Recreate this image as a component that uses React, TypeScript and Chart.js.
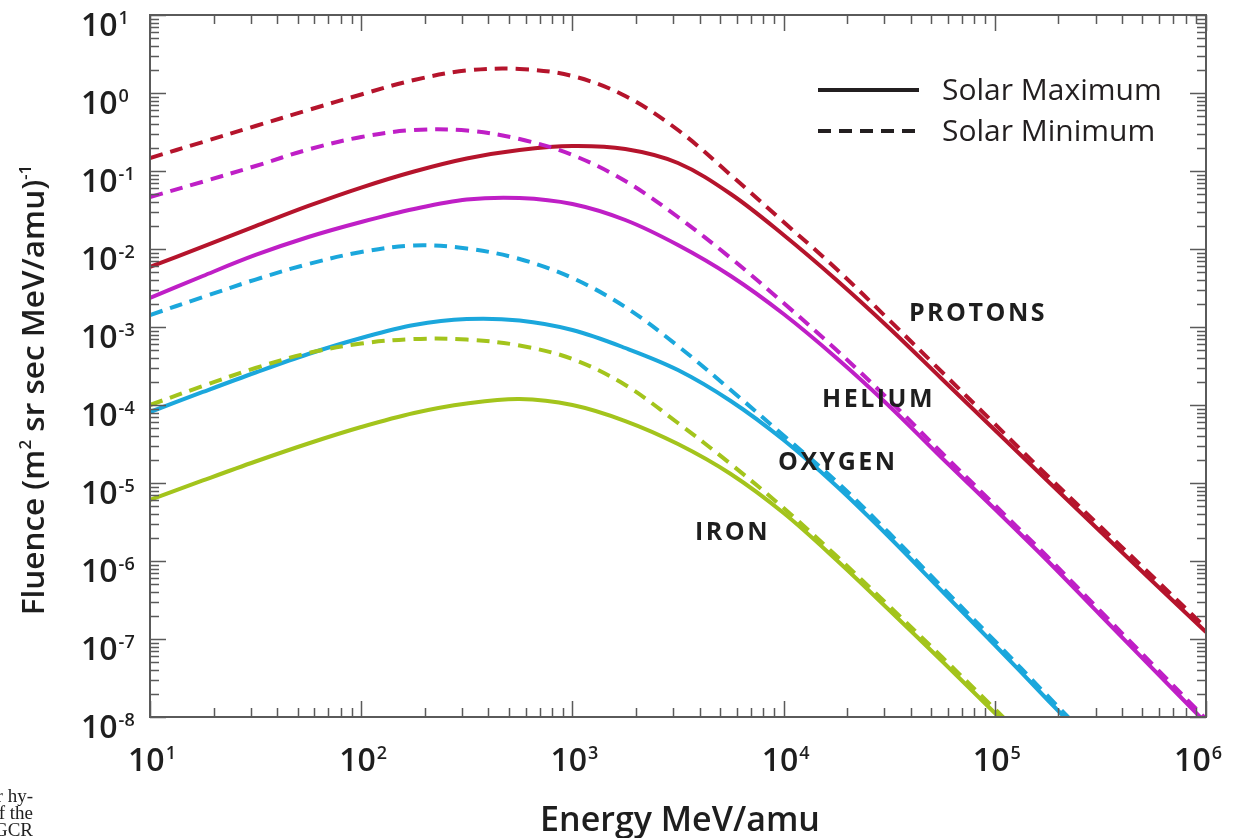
import React, { useEffect, useRef } from "react";
import { Chart, registerables } from "chart.js";

Chart.register(...registerables);

const FONT = "'Open Sans', 'Noto Sans', 'DejaVu Sans', sans-serif";

// Energy grid (MeV/amu)
const energies = [10, 17.8, 31.6, 56.2, 100, 178, 316, 562, 1000, 1780, 3160, 5620, 10000, 17800, 31600, 56200, 100000, 178000, 316000, 562000, 1000000];

// Fluence (m^2 sr sec MeV/amu)^-1
const protonsMax = [5.88e-3, 1.073e-2, 1.96e-2, 3.56e-2, 6.13e-2, 9.85e-2, 0.1446, 0.1858, 0.2092, 0.1914, 0.1266, 5.07e-2, 1.512e-2, 4.005e-3, 9.71e-4, 2.154e-4, 4.78e-5, 1.061e-5, 2.389e-6, 5.38e-7, 1.23e-7];
const protonsMin = [0.1468, 0.2354, 0.3775, 0.6054, 0.9567, 1.468, 1.943, 2.031, 1.652, 0.915, 0.3354, 8.88e-2, 2.22e-2, 5.54e-3, 1.23e-3, 2.65e-4, 5.71e-5, 1.23e-5, 2.77e-6, 6.23e-7, 1.384e-7];
const heliumMax = [2.354e-3, 4.51e-3, 8.38e-3, 1.425e-2, 2.22e-2, 3.26e-2, 4.31e-2, 4.51e-2, 3.775e-2, 2.354e-2, 1.125e-2, 4.51e-3, 1.468e-3, 4.005e-4, 9.71e-5, 2.09e-5, 4.64e-6, 1.0e-6, 2.03e-7, 4.12e-8, 8.38e-9];
const heliumMin = [4.64e-2, 7.29e-2, 0.1159, 0.1887, 0.2729, 0.3354, 0.3305, 0.2572, 0.1604, 7.44e-2, 2.572e-2, 7.66e-3, 2.03e-3, 5.07e-4, 1.159e-4, 2.424e-5, 5.22e-6, 1.125e-6, 2.286e-7, 4.64e-8, 9.43e-9];
const oxygenMax = [8.13e-5, 1.468e-4, 2.61e-4, 4.51e-4, 7.23e-4, 1.061e-3, 1.267e-3, 1.212e-3, 9.15e-4, 5.38e-4, 2.81e-4, 1.125e-4, 3.56e-5, 9.15e-6, 2.03e-6, 4.12e-7, 8.38e-8, 1.652e-8, 3.35e-9, 6.81e-10, 1.384e-10];
const oxygenMin = [1.425e-3, 2.42e-3, 4.06e-3, 6.42e-3, 9.15e-3, 1.109e-2, 1.015e-2, 7.44e-3, 4.25e-3, 1.805e-3, 5.71e-4, 1.557e-4, 4.06e-5, 1.045e-5, 2.286e-6, 4.64e-7, 9.43e-8, 1.858e-8, 3.775e-9, 7.66e-10, 1.557e-10];
const ironMax = [6.06e-6, 1.077e-5, 1.886e-5, 3.21e-5, 5.22e-5, 7.9e-5, 1.045e-4, 1.194e-4, 1.0e-4, 6.23e-5, 3.16e-5, 1.304e-5, 4.12e-6, 1.03e-6, 2.354e-7, 5.22e-8, 1.125e-8, 2.424e-9, 5.22e-10, 1.125e-10, 2.4e-11];
const ironMin = [1.0e-4, 1.752e-4, 2.98e-4, 4.64e-4, 6.14e-4, 7.02e-4, 6.91e-4, 5.79e-4, 3.89e-4, 1.805e-4, 5.88e-5, 1.752e-5, 4.78e-6, 1.159e-6, 2.65e-7, 5.88e-8, 1.267e-8, 2.73e-9, 5.88e-10, 1.267e-10, 2.73e-11];

// Axis tick labels (powers of ten)
const xTickExponents = [1, 2, 3, 4, 5, 6];
const yTickExponents = [1, 0, -1, -2, -3, -4, -5, -6, -7, -8];

// Species annotations (anchored in data units)
const speciesNames = ["PROTONS", "HELIUM", "OXYGEN", "IRON"];
const speciesLabelEnergy = [3.92e4, 1.52e4, 9.41e3, 3.81e3];
const speciesLabelFluence = [1.19e-3, 9.43e-5, 1.47e-5, 1.86e-6];

const legendLabels = ["Solar Maximum", "Solar Minimum"];

const RED = "#b5142c";
const MAGENTA = "#bf1fc6";
const CYAN = "#1ba7dc";
const GREEN = "#a3c41c";
const AXIS = "#5a5a5a";
const TEXT = "#1e1e1e";
const DASH = [13, 8];

const toXY = (arr: number[]) => energies.map((e, i) => ({ x: e, y: arr[i] }));

const framePlugin = {
  id: "frameAndText",
  afterDraw(chart: any) {
    const { ctx, chartArea: a, scales } = chart;
    const xs = scales.x;
    const ys = scales.y;
    ctx.save();

    // ticks (inward, all four sides)
    ctx.strokeStyle = AXIS;
    ctx.lineWidth = 1.5;
    ctx.beginPath();
    for (let e = 1; e <= 6; e++) {
      for (let k = 1; k <= 9; k++) {
        const v = k * Math.pow(10, e);
        if (v > 1e6 * 1.0001) continue;
        const px = Math.round(xs.getPixelForValue(v)) + 0.5;
        const len = k === 1 ? 16 : 9;
        ctx.moveTo(px, a.bottom);
        ctx.lineTo(px, a.bottom - len);
        ctx.moveTo(px, a.top);
        ctx.lineTo(px, a.top + len);
      }
    }
    for (let e = -8; e <= 1; e++) {
      for (let k = 1; k <= 9; k++) {
        const v = k * Math.pow(10, e);
        if (v > 10 * 1.0001) continue;
        const py = Math.round(ys.getPixelForValue(v)) + 0.5;
        const len = k === 1 ? 16 : 9;
        ctx.moveTo(a.left, py);
        ctx.lineTo(a.left + len, py);
        ctx.moveTo(a.right, py);
        ctx.lineTo(a.right - len, py);
      }
    }
    ctx.stroke();

    // frame
    ctx.lineWidth = 2;
    ctx.strokeRect(a.left, a.top, a.right - a.left, a.bottom - a.top);

    // tick labels
    ctx.fillStyle = TEXT;
    ctx.textBaseline = "alphabetic";
    ctx.textAlign = "left";
    const drawPower = (exp: number, x: number, baseline: number, center: boolean, maxRight: number) => {
      const es = String(exp);
      ctx.font = `600 32px ${FONT}`;
      const wb = ctx.measureText("10").width;
      ctx.font = `600 18px ${FONT}`;
      const we = ctx.measureText(es).width;
      const total = wb + 1 + we;
      let start = center ? x - total / 2 : x;
      if (start + total > maxRight) start = maxRight - total;
      ctx.font = `600 32px ${FONT}`;
      ctx.fillText("10", start, baseline);
      ctx.font = `600 18px ${FONT}`;
      ctx.fillText(es, start + wb + 1, baseline - 12);
    };
    yTickExponents.forEach((e) => {
      const py = ys.getPixelForValue(Math.pow(10, e));
      drawPower(e, 81, py + 21, false, 9999);
    });
    xTickExponents.forEach((e) => {
      const px = xs.getPixelForValue(Math.pow(10, e));
      drawPower(e, px + 2, a.bottom + 54, true, 1222);
    });

    // x title
    ctx.font = `600 34px ${FONT}`;
    ctx.textAlign = "center";
    ctx.fillText("Energy MeV/amu", (a.left + a.right) / 2 + 2, a.bottom + 114);

    // y title (rotated, with superscripts)
    const parts = [
      { t: "Fluence (m", s: false },
      { t: "2", s: true },
      { t: " sr sec MeV/amu)", s: false },
      { t: "-1", s: true },
    ];
    const mainFont = `600 31.5px ${FONT}`;
    const supFont = `600 17px ${FONT}`;
    let total = 0;
    parts.forEach((p) => {
      ctx.font = p.s ? supFont : mainFont;
      total += ctx.measureText(p.t).width;
    });
    ctx.save();
    ctx.translate(44, a.top + 375);
    ctx.rotate(-Math.PI / 2);
    ctx.textAlign = "left";
    let cx = -total / 2;
    parts.forEach((p) => {
      ctx.font = p.s ? supFont : mainFont;
      ctx.fillText(p.t, cx, p.s ? -13 : 0);
      cx += ctx.measureText(p.t).width;
    });
    ctx.restore();

    // legend
    const lx0 = a.right - 388;
    const lx1 = a.right - 287;
    const ly = [a.top + 75, a.top + 116];
    ctx.strokeStyle = "#231f20";
    ctx.lineWidth = 4;
    ctx.lineCap = "butt";
    ctx.setLineDash([]);
    ctx.beginPath();
    ctx.moveTo(lx0, ly[0]);
    ctx.lineTo(lx1, ly[0]);
    ctx.stroke();
    ctx.setLineDash(DASH);
    ctx.beginPath();
    ctx.moveTo(lx0, ly[1]);
    ctx.lineTo(lx1, ly[1]);
    ctx.stroke();
    ctx.setLineDash([]);
    ctx.font = `500 30px ${FONT}`;
    ctx.textAlign = "left";
    ctx.textBaseline = "middle";
    ctx.fillStyle = "#231f20";
    legendLabels.forEach((l, i) => ctx.fillText(l, a.right - 264, ly[i] + 1));

    // species labels
    ctx.textBaseline = "alphabetic";
    ctx.font = `700 25px ${FONT}`;
    (ctx as any).letterSpacing = "2.5px";
    ctx.fillStyle = TEXT;
    speciesNames.forEach((n, i) => {
      const px = xs.getPixelForValue(speciesLabelEnergy[i]);
      const py = ys.getPixelForValue(speciesLabelFluence[i]);
      ctx.fillText(n, px, py);
    });
    (ctx as any).letterSpacing = "0px";

    ctx.restore();
  },
};

export default function App() {
  const ref = useRef<HTMLCanvasElement>(null);

  useEffect(() => {
    const mk = (label: string, data: number[], color: string, dashed: boolean) => ({
      label,
      data: toXY(data),
      borderColor: color,
      backgroundColor: color,
      borderWidth: 4,
      borderDash: dashed ? DASH : [],
      pointRadius: 0,
      tension: 0.35,
      fill: false,
      clip: 0,
    });
    const chart = new Chart(ref.current as HTMLCanvasElement, {
      type: "line",
      data: {
        datasets: [
          mk("Protons – Solar Minimum", protonsMin, RED, true),
          mk("Helium – Solar Minimum", heliumMin, MAGENTA, true),
          mk("Oxygen – Solar Minimum", oxygenMin, CYAN, true),
          mk("Iron – Solar Minimum", ironMin, GREEN, true),
          mk("Protons – Solar Maximum", protonsMax, RED, false),
          mk("Helium – Solar Maximum", heliumMax, MAGENTA, false),
          mk("Oxygen – Solar Maximum", oxygenMax, CYAN, false),
          mk("Iron – Solar Maximum", ironMax, GREEN, false),
        ] as any,
      },
      options: {
        responsive: false,
        devicePixelRatio: 1,
        animation: false,
        layout: { padding: { left: 150, right: 32, top: 15, bottom: 121 } },
        plugins: { legend: { display: false }, tooltip: { enabled: false } },
        scales: {
          x: { type: "logarithmic", min: 10, max: 1e6, display: false },
          y: { type: "logarithmic", min: 1e-8, max: 10, display: false },
        },
      } as any,
      plugins: [framePlugin],
    });
    return () => chart.destroy();
  }, []);

  const captionStyle: React.CSSProperties = {
    position: "absolute",
    right: 1205,
    whiteSpace: "nowrap",
    fontFamily: "'Liberation Serif', 'DejaVu Serif', serif",
    fontSize: 19,
    lineHeight: "19px",
    color: "#222",
  };

  return (
    <div style={{ position: "absolute", left: 0, top: 0, width: 1238, height: 838, overflow: "hidden", background: "#fff" }}>
      <canvas ref={ref} width={1238} height={838} style={{ display: "block", width: 1238, height: 838 }} />
      <span style={{ ...captionStyle, top: 786 }}>for hy-</span>
      <span style={{ ...captionStyle, top: 803 }}>of the</span>
      <span style={{ ...captionStyle, top: 820 }}>GCR</span>
    </div>
  );
}
